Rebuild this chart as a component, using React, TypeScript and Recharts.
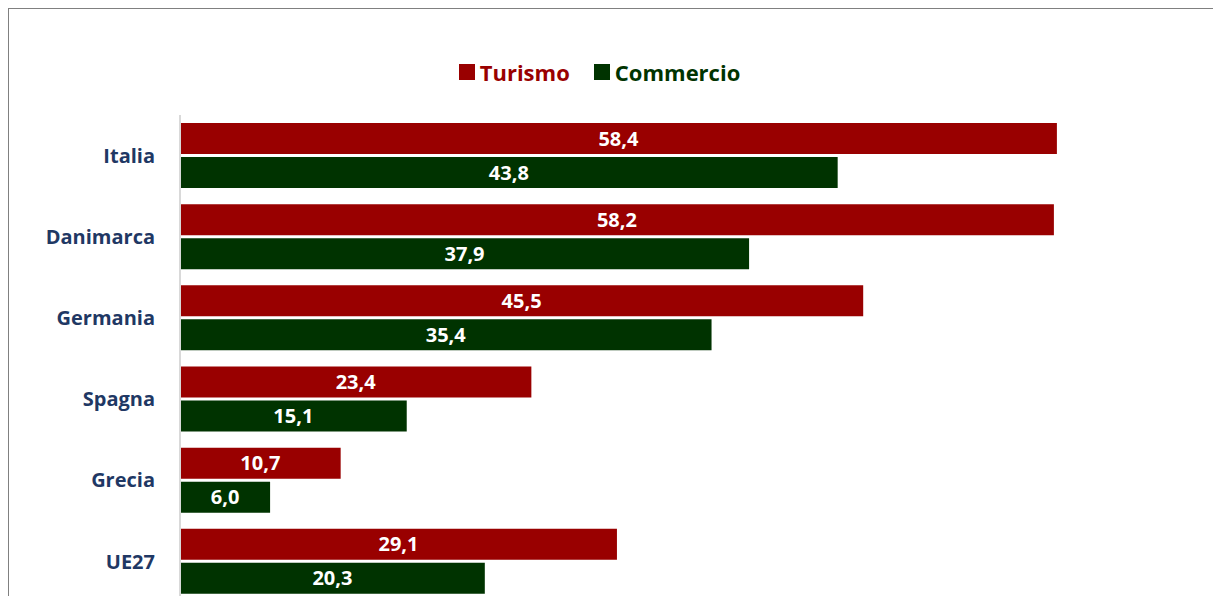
import { Bar, BarChart, LabelList, Legend, XAxis, YAxis } from "recharts";

const categories = ["Italia", "Danimarca", "Germania", "Spagna", "Grecia", "UE27"];
const turismo = [58.4, 58.2, 45.5, 23.4, 10.7, 29.1];
const commercio = [43.8, 37.9, 35.4, 15.1, 6.0, 20.3];

const RED = "#990000";
const GREEN = "#003300";
const FONT = "'Open Sans', sans-serif";

const fmt = (v: number) => v.toFixed(1).replace(".", ",");

function LegendBox() {
  const items = [
    { name: "Turismo", color: RED },
    { name: "Commercio", color: GREEN },
  ];
  return (
    <div style={{ display: "flex", justifyContent: "center", gap: 24, fontFamily: FONT, fontWeight: 700, fontSize: 22 }}>
      {items.map((it) => (
        <div key={it.name} style={{ display: "flex", alignItems: "center", color: it.color }}>
          <span style={{ display: "inline-block", width: 16, height: 16, background: it.color, marginRight: 5 }} />
          {it.name}
        </div>
      ))}
    </div>
  );
}

export default function App() {
  const data = categories.map((name, i) => ({
    name,
    turismo: turismo[i],
    commercio: commercio[i],
  }));

  return (
    <div
      style={{
        borderTop: "1px solid #808080",
        borderLeft: "1px solid #808080",
        width: 1212,
        height: 600,
        overflow: "hidden",
        background: "#fff",
      }}
    >
      <BarChart
        width={1209}
        height={620}
        data={data}
        layout="vertical"
        margin={{ top: 106, right: 62, left: 0, bottom: 27 }}
        barGap={3}
        barSize={31}
      >
        <XAxis type="number" domain={[0, 65]} hide />
        <YAxis
          type="category"
          dataKey="name"
          width={171}
          axisLine={{ stroke: "#d9d9d9", strokeWidth: 2 }}
          tickLine={false}
          tickMargin={19}
          tick={{ fill: "#1f3864", fontSize: 20, fontWeight: 700, fontFamily: FONT }}
        />
        <Legend
          layout="horizontal"
          verticalAlign="middle"
          align="center"
          content={() => <LegendBox />}
          wrapperStyle={{ top: 48, left: 0, width: 1181 }}
        />
        <Bar dataKey="turismo" name="Turismo" fill={RED} isAnimationActive={false}>
          <LabelList dataKey="turismo" position="center" formatter={(v: any) => fmt(Number(v))} fill="#fff" style={{ fontFamily: FONT, fontWeight: 700, fontSize: 20 }} />
        </Bar>
        <Bar dataKey="commercio" name="Commercio" fill={GREEN} isAnimationActive={false}>
          <LabelList dataKey="commercio" position="center" formatter={(v: any) => fmt(Number(v))} fill="#fff" style={{ fontFamily: FONT, fontWeight: 700, fontSize: 20 }} />
        </Bar>
      </BarChart>
    </div>
  );
}
